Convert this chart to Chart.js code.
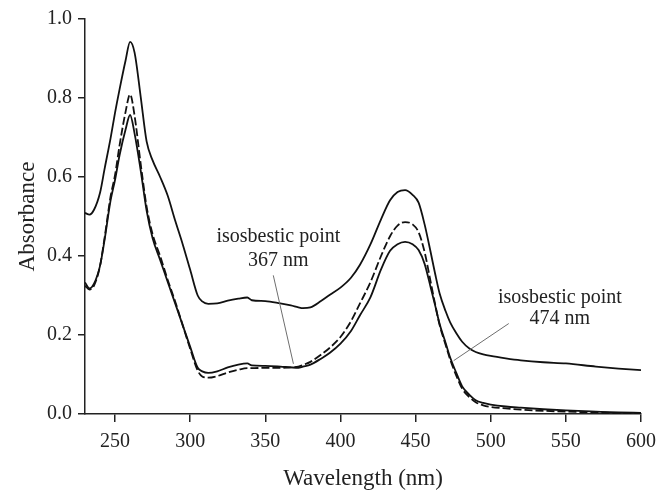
<!DOCTYPE html>
<html>
<head>
<meta charset="utf-8">
<script src="https://cdn.jsdelivr.net/npm/chart.js@4"></script>
<style>
  html, body { margin: 0; padding: 0; background: #fff; }
  #wrap { width: 657px; height: 493px; }
</style>
</head>
<body>
<div id="wrap"><canvas id="chart" width="657" height="493"></canvas></div>
<script>
/* ===================== DATA ===================== */
const wavelength = [230, 233, 236, 240, 243, 247, 250, 253, 257, 260, 263, 267, 271, 275, 280, 285, 290, 295, 300,
  305, 308, 312, 318, 325, 332, 338, 341, 350, 360, 367, 372, 375, 380, 387, 393, 400, 407, 413, 420, 427, 433,
  438, 443, 448, 452, 456, 460, 463, 466, 470, 473, 477, 481, 486, 490, 495, 500, 510, 520, 535, 550, 570, 585, 600];

// upper solid curve
const absTop = [0.509, 0.505, 0.517, 0.560, 0.620, 0.698, 0.763, 0.822, 0.895, 0.942, 0.915, 0.805, 0.690, 0.642,
  0.600, 0.553, 0.490, 0.430, 0.365, 0.300, 0.285, 0.279, 0.280, 0.287, 0.292, 0.295, 0.288, 0.286, 0.280, 0.275,
  0.270, 0.268, 0.270, 0.286, 0.302, 0.320, 0.345, 0.378, 0.430, 0.493, 0.541, 0.562, 0.567, 0.555, 0.535, 0.480,
  0.410, 0.355, 0.305, 0.260, 0.232, 0.205, 0.183, 0.165, 0.157, 0.151, 0.147, 0.141, 0.136, 0.131, 0.128, 0.120,
  0.115, 0.111];

// lower solid curve
const absLow = [0.333, 0.318, 0.330, 0.375, 0.440, 0.540, 0.593, 0.655, 0.720, 0.757, 0.710, 0.618, 0.515, 0.445,
  0.390, 0.335, 0.280, 0.225, 0.170, 0.117, 0.108, 0.104, 0.108, 0.118, 0.125, 0.128, 0.123, 0.122, 0.120, 0.118,
  0.117, 0.120, 0.125, 0.140, 0.155, 0.178, 0.210, 0.250, 0.296, 0.366, 0.413, 0.430, 0.436, 0.430, 0.415, 0.380,
  0.321, 0.275, 0.228, 0.180, 0.143, 0.105, 0.070, 0.048, 0.035, 0.028, 0.024, 0.019, 0.016, 0.012, 0.009, 0.006,
  0.004, 0.003];

// dashed curve
const absDash = [0.325, 0.315, 0.325, 0.375, 0.445, 0.550, 0.605, 0.680, 0.765, 0.809, 0.755, 0.635, 0.525, 0.455,
  0.400, 0.340, 0.285, 0.225, 0.165, 0.110, 0.095, 0.092, 0.096, 0.105, 0.112, 0.116, 0.116, 0.117, 0.117, 0.118,
  0.120, 0.124, 0.132, 0.150, 0.168, 0.195, 0.235, 0.280, 0.334, 0.400, 0.450, 0.477, 0.486, 0.480, 0.460, 0.410,
  0.335, 0.278, 0.225, 0.175, 0.138, 0.098, 0.064, 0.042, 0.030, 0.022, 0.018, 0.014, 0.011, 0.008, 0.006, 0.004,
  0.002, 0.001];

const xTicks = [250, 300, 350, 400, 450, 500, 550, 600];
const yTicks = [0, 0.2, 0.4, 0.6, 0.8, 1.0];

// annotations: label lines + leader line (data coords)
const notes = [
  { lines: ["isosbestic point", "367 nm"], at: [358.7, 0.448], step: 0.059, from: [355.3, 0.351], to: [368.7, 0.127] },
  { lines: ["isosbestic point", "474 nm"], at: [546, 0.295], step: 0.055, from: [512, 0.229], to: [475.3, 0.135] }
];

/* ===================== HELPERS ===================== */
const FONT = "'Liberation Serif', serif";
const pts = vals => wavelength.map((w, i) => ({ x: w, y: vals[i] }));

const notePlugin = {
  id: "notes",
  afterDatasetsDraw(chart) {
    const { ctx, scales: { x, y } } = chart;
    ctx.save();
    notes.forEach(n => {
      ctx.strokeStyle = "#6e6e6e";
      ctx.lineWidth = 1;
      ctx.beginPath();
      ctx.moveTo(x.getPixelForValue(n.from[0]), y.getPixelForValue(n.from[1]));
      ctx.lineTo(x.getPixelForValue(n.to[0]), y.getPixelForValue(n.to[1]));
      ctx.stroke();

      ctx.fillStyle = "#222";
      ctx.font = "20px " + FONT;
      ctx.textAlign = "center";
      ctx.textBaseline = "middle";
      n.lines.forEach((t, i) => {
        ctx.fillText(t, x.getPixelForValue(n.at[0]), y.getPixelForValue(n.at[1] - i * n.step));
      });
    });
    ctx.restore();
  }
};

/* ===================== CHART ===================== */
const line = (vals, dash) => ({
  data: pts(vals),
  borderColor: "#111",
  borderWidth: 1.8,
  borderDash: dash || [],
  pointRadius: 0,
  cubicInterpolationMode: "monotone",
  fill: false
});

new Chart(document.getElementById("chart"), {
  type: "line",
  data: {
    datasets: [line(absTop), line(absDash, [8, 3]), line(absLow)]
  },
  options: {
    responsive: false,
    animation: false,
    layout: { padding: { top: 19, right: 0, left: 0, bottom: 0 } },
    plugins: { legend: { display: false }, tooltip: { enabled: false } },
    scales: {
      x: {
        type: "linear",
        min: 230,
        max: 600,
        afterFit: s => { s.height = 79; s.paddingRight = 16; },
        afterBuildTicks: s => { s.ticks = xTicks.map(v => ({ value: v })); },
        border: { display: true, color: "#222", width: 1.5 },
        grid: { drawOnChartArea: false, drawTicks: true, tickLength: 8, color: "#222", lineWidth: 1.5 },
        ticks: { color: "#222", font: { family: FONT, size: 20 }, padding: 8, maxRotation: 0 },
        title: { display: true, text: "Wavelength (nm)", color: "#222", font: { family: FONT, size: 23 }, padding: { top: 0, bottom: 0 } }
      },
      y: {
        min: 0,
        max: 1,
        afterFit: s => { s.width = 85; },
        afterBuildTicks: s => { s.ticks = yTicks.map(v => ({ value: v })); },
        border: { display: true, color: "#222", width: 1.5 },
        grid: { drawOnChartArea: false, drawTicks: true, tickLength: 7, color: "#222", lineWidth: 1.5 },
        ticks: { color: "#222", font: { family: FONT, size: 20 }, padding: 6, callback: v => v.toFixed(1) },
        title: { display: true, text: "Absorbance", color: "#222", font: { family: FONT, size: 23 }, padding: { top: 14, bottom: 0 } }
      }
    }
  },
  plugins: [notePlugin]
});
</script>
</body>
</html>
